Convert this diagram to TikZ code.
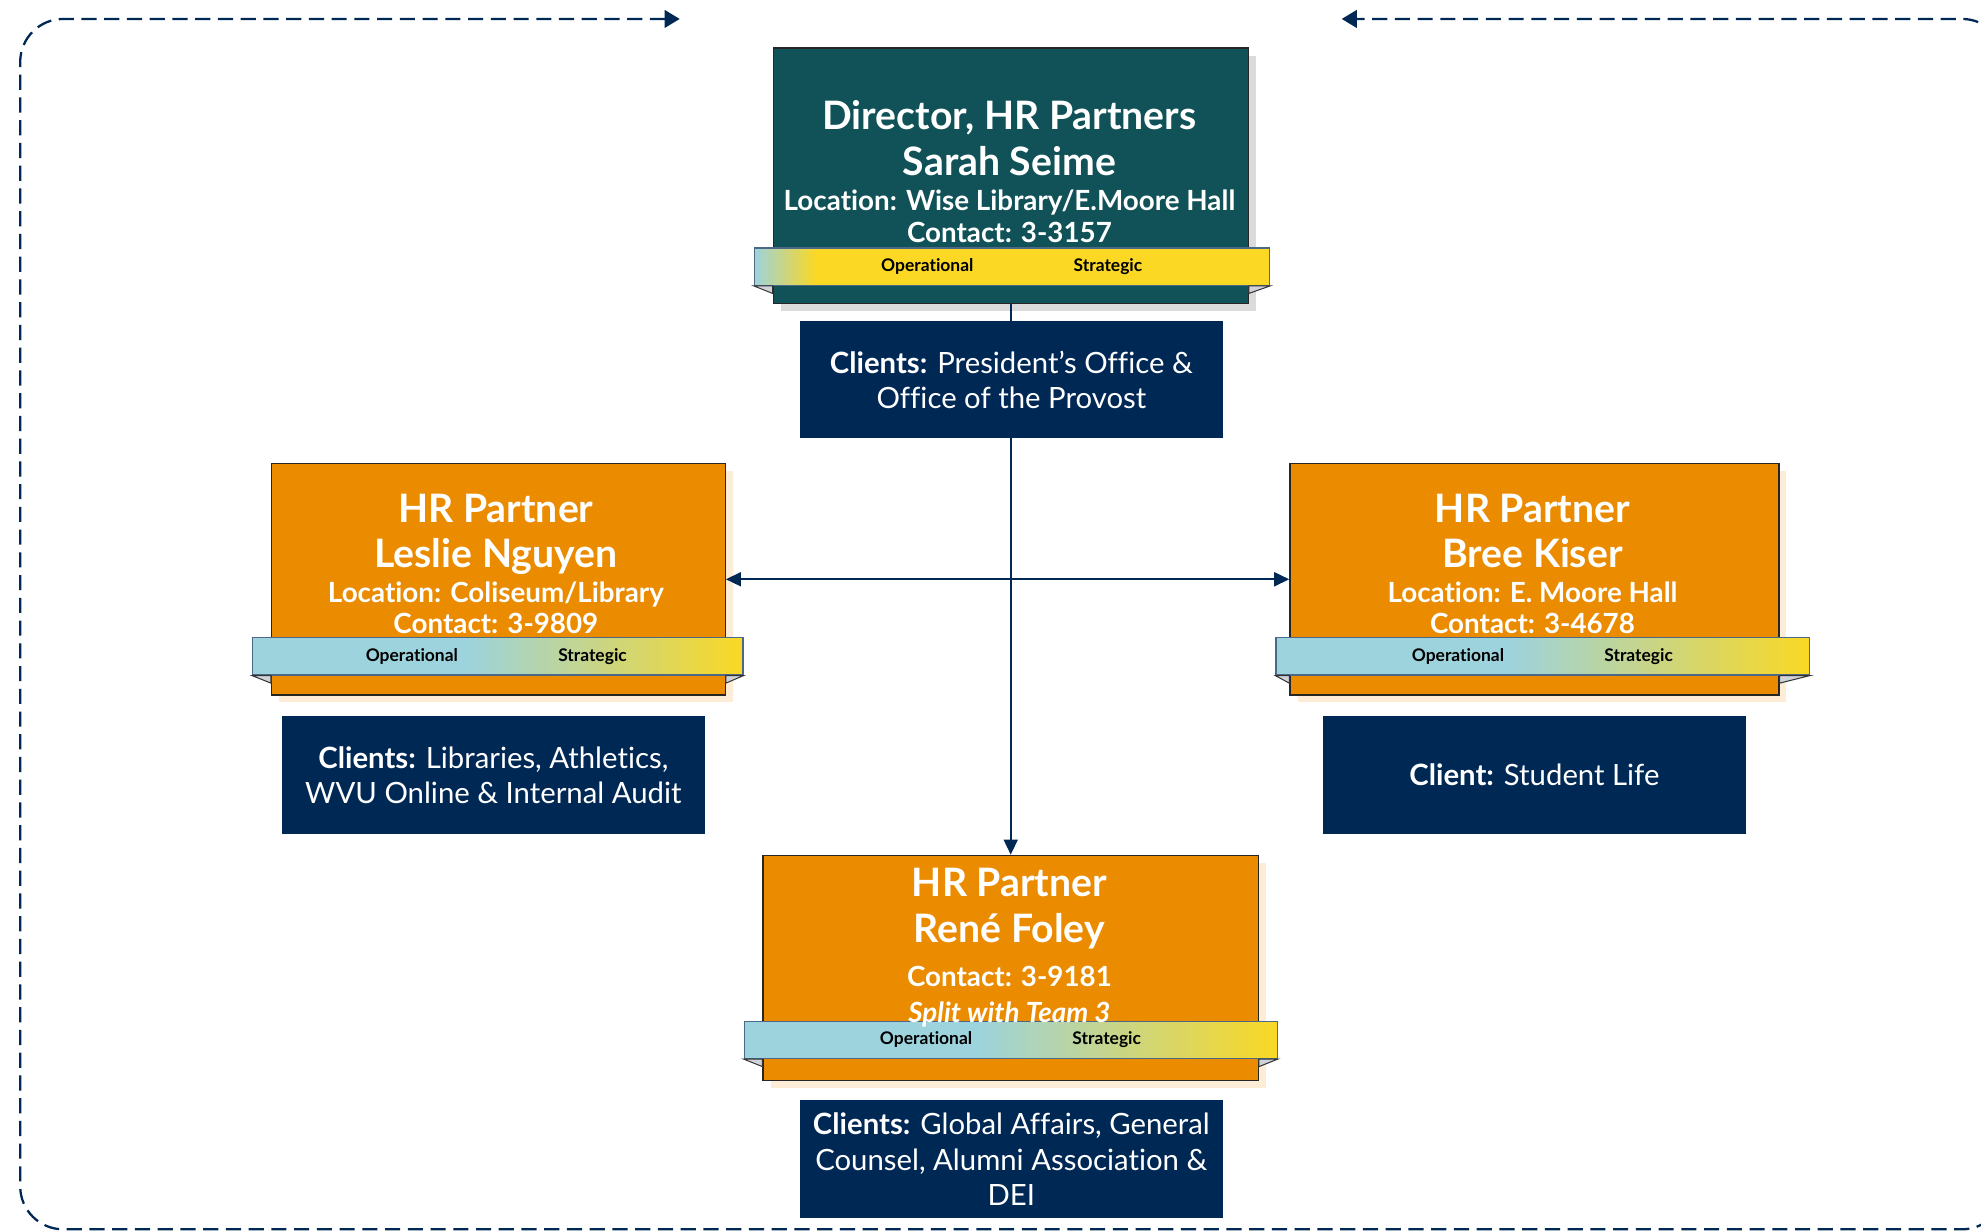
\documentclass[tikz,border=0pt]{standalone}
\usepackage{fontspec}
\setmainfont{Lato}[Ligatures=NoCommon]
\usetikzlibrary{arrows.meta,shadows}

\definecolor{hrteal}{RGB}{16,82,88}
\definecolor{hrorange}{RGB}{234,139,0}
\definecolor{hrnavy}{RGB}{0,40,85}
\definecolor{bandblue}{RGB}{157,211,220}
\definecolor{bandgold}{RGB}{250,216,36}
\definecolor{foldgray}{RGB}{208,210,218}
\definecolor{creamshadow}{RGB}{253,237,214}

\pgfdeclarehorizontalshading{opstrat}{100bp}{color(0bp)=(bandblue); color(47bp)=(bandblue); color(75bp)=(bandgold); color(100bp)=(bandgold)}
\pgfdeclarehorizontalshading{opstratdir}{100bp}{color(0bp)=(bandblue); color(25bp)=(bandblue); color(31bp)=(bandgold); color(100bp)=(bandgold)}

\tikzset{
  dirbox/.style={draw=black!85, line width=0.5pt, fill=hrteal, inner sep=0pt,
    drop shadow={shadow xshift=3pt, shadow yshift=-3pt, fill=black!14, opacity=1}},
  partnerbox/.style={draw=black!85, line width=0.5pt, fill=hrorange, inner sep=0pt,
    drop shadow={shadow xshift=3pt, shadow yshift=-3pt, fill=creamshadow, opacity=1}},
  clientbox/.style={fill=hrnavy, text=white, inner sep=0pt, minimum width=167.5pt,
    minimum height=46.5pt, align=center, font=\fontsize{11.6}{14}\selectfont},
  opband/.style={draw=hrnavy!70, line width=0.5pt, inner sep=0pt, minimum height=14.75pt, shade},
  bandlabel/.style={font=\fontsize{6.9}{7}\selectfont\bfseries, text=black, inner sep=0pt},
  fold/.style={draw=black!80, line width=0.4pt, fill=foldgray},
  titletext/.style={text=white, align=center, inner sep=0pt, font=\fontsize{15.5}{18}\selectfont\bfseries},
  link/.style={draw=hrnavy, line width=0.9pt},
  loopframe/.style={draw=hrnavy, line width=0.9pt, dash pattern=on 6pt off 3pt, rounded corners=17pt}
}

\newcommand{\smallline}{\fontsize{11}{12.5}\selectfont}

\begin{document}
\begin{tikzpicture}[x=0.5pt,y=-0.5pt]
\useasboundingbox (0,0) rectangle (1568,975);
%% director
\node[dirbox, minimum width=188pt, minimum height=101pt] (dirbox) at (800,139) {};
\node[partnerbox, minimum width=179.5pt, minimum height=91.5pt] (lesbox) at (394.5,458.5) {};
\node[partnerbox, minimum width=193.5pt, minimum height=91.5pt] (breebox) at (1214.5,458.5) {};
\node[partnerbox, minimum width=196pt, minimum height=89pt] (renebox) at (800,766) {};
%% connectors
\draw[link, -{Triangle[length=6pt,width=5.5pt]}] (dirbox) -- (renebox);
\draw[link, {Triangle[length=6pt,width=5.5pt]}-{Triangle[length=6pt,width=5.5pt]}] (lesbox) -- (breebox);
%% bands
\node[opband, shading=opstratdir, minimum width=204pt] (dirband) at (801,211) {};
\node[opband, shading=opstrat, minimum width=194pt] (lesband) at (394,519.5) {};
\node[opband, shading=opstrat, minimum width=211pt] (breeband) at (1221,519.5) {};
\node[opband, shading=opstrat, minimum width=211pt] (reneband) at (800,823) {};
%%
\draw[fold] (dirband.south west) -- (dirbox.west |- dirband.south) -- ++(0,6) -- cycle;
\draw[fold] (dirband.south east) -- (dirbox.east |- dirband.south) -- ++(0,6) -- cycle;
\draw[fold] (lesband.south west) -- (lesbox.west |- lesband.south) -- ++(0,6) -- cycle;
\draw[fold] (lesband.south east) -- (lesbox.east |- lesband.south) -- ++(0,6) -- cycle;
\draw[fold] (breeband.south west) -- (breebox.west |- breeband.south) -- ++(0,6) -- cycle;
\draw[fold] (breeband.south east) -- (breebox.east |- breeband.south) -- ++(0,6) -- cycle;
\draw[fold] (reneband.south west) -- (renebox.west |- reneband.south) -- ++(0,6) -- cycle;
\draw[fold] (reneband.south east) -- (renebox.east |- reneband.south) -- ++(0,6) -- cycle;
%%
\node[bandlabel] (dirop) at (734,211) {Operational};
\node[bandlabel] (dirst) at (877,211) {Strategic};
\node[bandlabel] (lesop) at (326,519.5) {Operational};
\node[bandlabel] (lesst) at (469,519.5) {Strategic};
\node[bandlabel] (breeop) at (1154,519.5) {Operational};
\node[bandlabel] (breest) at (1297,519.5) {Strategic};
\node[bandlabel] (reneop) at (733,823) {Operational};
\node[bandlabel] (renest) at (876,823) {Strategic};
%% names
\node[titletext] (dirtext) at (799,136) {Director, HR Partners\\Sarah Seime\\[-3.9pt]{\smallline Location: Wise Library/E.Moore Hall}\\[-5.5pt]{\smallline Contact: 3-3157}};
\node[titletext] (lestext) at (392.5,446.3) {HR Partner\\Leslie Nguyen\\[-4.25pt]{\smallline Location: Coliseum/Library}\\[-5.5pt]{\smallline Contact: 3-9809}};
\node[titletext] (breetext) at (1213,446.3) {HR Partner\\Bree Kiser\\[-4.25pt]{\smallline Location: E. Moore Hall}\\[-5.5pt]{\smallline Contact: 3-4678}};
\node[titletext] (renetext) at (799,750) {HR Partner\\René Foley\\[-0.5pt]{\smallline Contact: 3-9181}\\[-3.75pt]{\fontsize{11}{12.5}\selectfont\itshape Split with Team 3}};
%% clients
\node[clientbox] (dirclients) at (800.5,300.5) {\textbf{Clients:} President’s Office \&\\Office of the Provost};
\node[clientbox] (lesclients) at (390.5,613.5) {\textbf{Clients:} Libraries, Athletics,\\WVU Online \& Internal Audit};
\node[clientbox] (breeclients) at (1214.5,613.5) {\textbf{Client:} Student Life};
\node[clientbox] (reneclients) at (800.5,917.5) {\textbf{Clients:} Global Affairs, General\\Counsel, Alumni Association \&\\DEI};
%% loop
\coordinate (loopin) at (538,15);
\coordinate (loopout) at (1062,15);
\draw[loopframe, {Triangle[length=6pt,width=7pt]}-{Triangle[length=6pt,width=7pt]}] (loopin) -- (16,15) -- (16,973) -- (1587,973) -- (1587,15) -- (loopout);
\end{tikzpicture}
\end{document}
